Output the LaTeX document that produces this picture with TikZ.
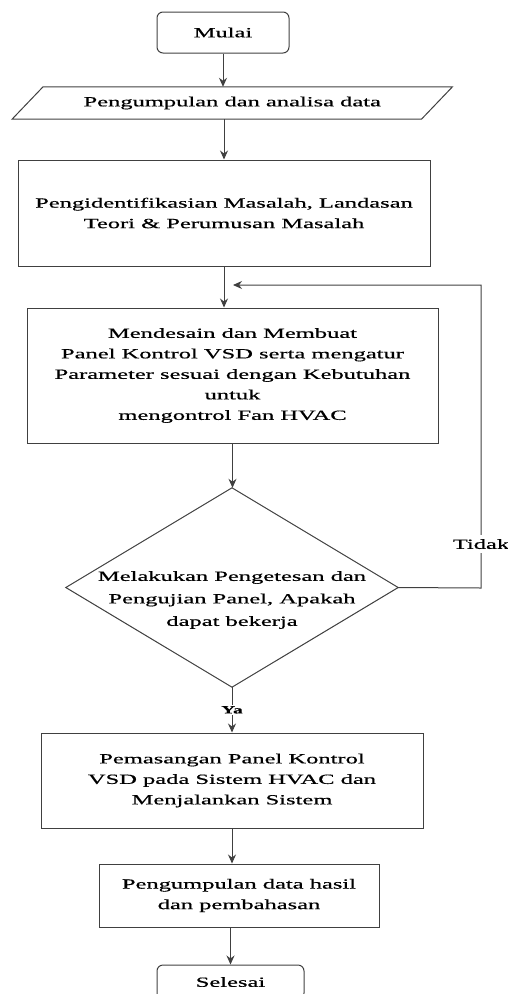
\documentclass[tikz,border=0pt]{standalone}
\usepackage{fontspec}
\setmainfont{Liberation Serif}[FakeStretch=1.75, FakeBold=0.6]
\usetikzlibrary{arrows.meta}

\begin{document}
\begin{tikzpicture}[x=1pt, y=-1pt, >={Stealth[length=9pt,width=8pt]},
    garis/.style={draw=black!75, line width=1pt},
    teks/.style={align=center, font=\fontsize{14}{20.5}\selectfont},
    kotak/.style={garis, teks}]
    \useasboundingbox (0,0) rectangle (508,994);

    % titik untuk garis balik
    \coordinate (kanan) at (481,588);
    \coordinate (atas) at (481,285);
    \coordinate (balik) at (233,285);

    % kotak-kotak
    \node[kotak, rounded corners=6pt, minimum width=132pt, minimum height=41pt] (mulai) at (223,32.5) {Mulai};
    \node[teks, minimum width=409pt, minimum height=32pt] (data) at (232.25,103) {Pengumpulan dan analisa data};
    \draw[garis] ([xshift=15.5pt]data.north west) -- ([xshift=15.5pt]data.north east)
        -- ([xshift=-15.5pt]data.south east) -- ([xshift=-15.5pt]data.south west) -- cycle;
    \node[kotak, minimum width=412pt, minimum height=106pt] (iden) at (224,213) {Pengidentifikasian Masalah, Landasan\\Teori \& Perumusan Masalah};
    \node[kotak, minimum width=411pt, minimum height=135pt] (desain) at (232.5,375.5) {Mendesain dan Membuat\\Panel Kontrol VSD serta mengatur\\Parameter sesuai dengan Kebutuhan\\untuk\\mengontrol Fan HVAC};
    \node[minimum width=332pt, minimum height=199pt, inner sep=0pt] (uji) at (232,587.5) {};
    \draw[garis] (uji.north) -- (uji.east) -- (uji.south) -- (uji.west) -- cycle;
    \node[teks, font=\fontsize{14}{22.5}\selectfont] (ujiteks) at (232,600) {Melakukan Pengetesan dan\\Pengujian Panel, Apakah\\dapat bekerja};
    \node[kotak, minimum width=382pt, minimum height=95pt] (pasang) at (232,780.5) {Pemasangan Panel Kontrol\\VSD pada Sistem HVAC dan\\Menjalankan Sistem};
    \node[kotak, minimum width=280pt, minimum height=63pt] (hasil) at (239,895.5) {Pengumpulan data hasil\\dan pembahasan};
    \node[kotak, rounded corners=6pt, minimum width=147pt, minimum height=34pt] (selesai) at (230.5,982) {Selesai};

    % panah
    \draw[garis,->] (mulai.south) -- (mulai.south |- data.north);
    \draw[garis,->] (iden.north |- data.south) -- (iden.north);
    \draw[garis,->] (iden.south) -- (iden.south |- desain.north);
    \draw[garis,->] (desain.south) -- (desain.south |- uji.north);
    \draw[garis,->] (uji.south) -- node[fill=white, inner sep=1pt, font=\fontsize{11}{13}\bfseries\selectfont] {Ya} (uji.south |- pasang.north);
    \draw[garis,->] (pasang.south) -- (pasang.south |- hasil.north);
    \draw[garis,->] (selesai.north |- hasil.south) -- (selesai.north);

    % jika tidak, kembali
    \draw[garis,->] (uji.east) -- (kanan) -- node[pos=0.145, fill=white, inner sep=4pt, teks] {Tidak} (atas) -- (balik);
\end{tikzpicture}
\end{document}
